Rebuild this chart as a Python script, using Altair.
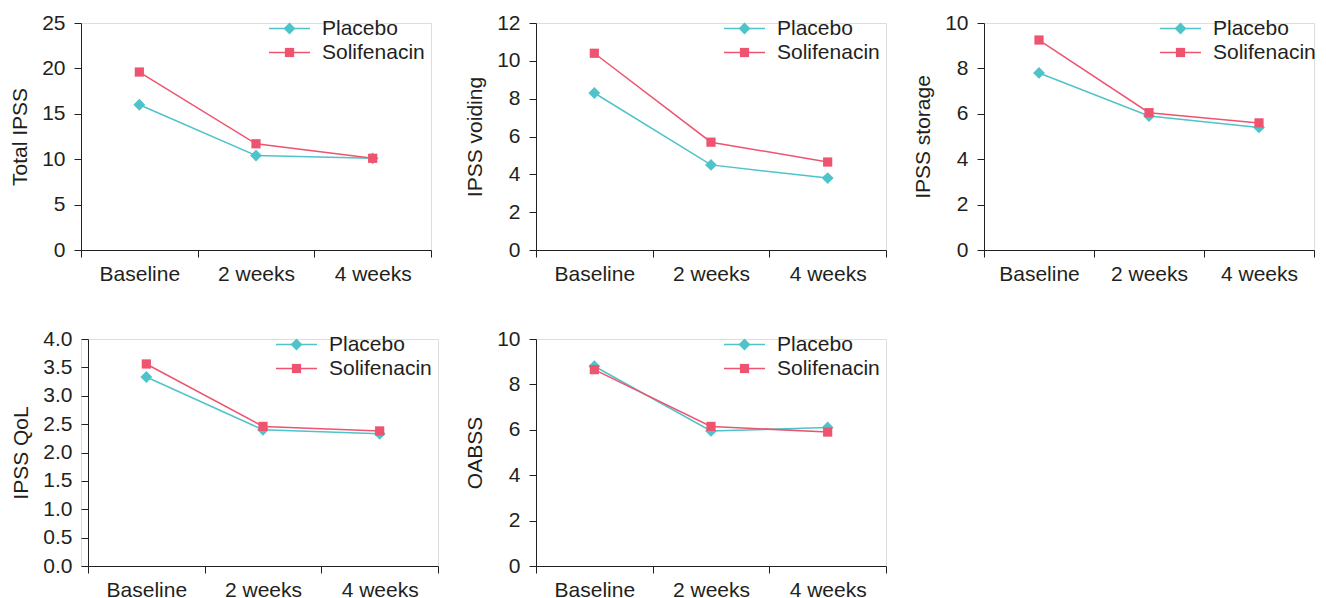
import altair as alt
import pandas as pd

categories = ["Baseline", "2 weeks", "4 weeks"]
series = ["Placebo", "Solifenacin"]
colors = ["#4EC3CA", "#EE5470"]

total_ipss_placebo = [16.0, 10.4, 10.1]
total_ipss_solifenacin = [19.6, 11.7, 10.1]
voiding_placebo = [8.3, 4.5, 3.8]
voiding_solifenacin = [10.4, 5.7, 4.65]
storage_placebo = [7.8, 5.9, 5.4]
storage_solifenacin = [9.25, 6.05, 5.6]
qol_placebo = [3.33, 2.40, 2.33]
qol_solifenacin = [3.56, 2.46, 2.38]
oabss_placebo = [8.8, 5.95, 6.1]
oabss_solifenacin = [8.65, 6.15, 5.9]

FONT = "Liberation Sans"
TXT = "#231F20"
FS = 21
PLOT_W = 350
PLOT_H = 227


def panel(title, placebo, solif, ymax, step, fmt, width=PLOT_W, shift=0, legend_dx=0):
    rows = []
    for s, vals in zip(series, [placebo, solif]):
        for c, v in zip(categories, vals):
            rows.append({"time": c, "series": s, "value": v})
    df = pd.DataFrame(rows)
    nticks = int(round(ymax / step))
    tick_vals = [round(i * step, 3) for i in range(nticks + 1)]

    xscale = dict(type="band", domain=categories, paddingInner=0, paddingOuter=0)
    if shift:
        xscale["range"] = [shift, shift + width]
    x = alt.X(
        "time:N",
        sort=categories,
        bandPosition=0.5,
        scale=alt.Scale(**xscale),
        axis=alt.Axis(
            title=None, tickBand="extent", labelAngle=0, tickSize=7, labelPadding=6,
            labelFontSize=FS, labelFont=FONT, labelColor=TXT,
            domainColor=TXT, tickColor=TXT, grid=False,
        ),
    )
    yaxis = dict(
        title=title, values=tick_vals, format=fmt, tickSize=7, labelPadding=9,
        labelFontSize=FS, labelFont=FONT, labelColor=TXT,
        titleFontSize=FS, titleFont=FONT, titleColor=TXT, titleFontWeight="normal",
        titlePadding=11, domainColor=TXT, tickColor=TXT, grid=False,
    )
    if shift:
        yaxis["offset"] = -shift
    y = alt.Y(
        "value:Q",
        scale=alt.Scale(domain=[0, ymax], nice=False, zero=True),
        axis=alt.Axis(**yaxis),
    )
    lx = 198 + shift + legend_dx
    ly = -5
    line_legend = alt.Legend(
        orient="none", legendX=lx, legendY=ly, title=None, padding=0,
        symbolType="M-4.1,0L4.1,0", symbolSize=100, symbolStrokeWidth=1.5,
        symbolOffset=0, labelOffset=22, rowPadding=2,
        labelFontSize=FS, labelFont=FONT, labelColor=TXT,
    )
    point_legend = alt.Legend(
        orient="none", legendX=lx, legendY=ly, title=None, padding=0,
        symbolSize=100, symbolStrokeWidth=0, symbolOffset=0, labelOffset=22,
        rowPadding=2, labelFontSize=FS, labelFont=FONT, labelOpacity=0,
    )
    cscale = alt.Scale(domain=series, range=colors)
    line = alt.Chart(df).mark_line(strokeWidth=1.5).encode(
        x=x, y=y,
        color=alt.Color("series:N", scale=cscale, legend=line_legend),
        detail="series:N",
    )
    pts = alt.Chart(df).mark_point(filled=True, opacity=1).encode(
        x=x, y=y,
        color=alt.Color("series:N", scale=cscale, legend=point_legend),
        shape=alt.Shape("series:N", scale=alt.Scale(domain=series, range=["diamond", "square"]),
                        legend=point_legend),
        size=alt.Size("series:N", scale=alt.Scale(domain=series, range=[140, 85]), legend=None),
    )
    return (
        alt.layer(line, pts)
        .resolve_scale(color="independent", shape="independent", size="independent")
        .resolve_legend(color="independent", shape="independent", size="independent")
        .properties(width=width + shift, height=PLOT_H)
    )


p1 = panel("Total IPSS", total_ipss_placebo, total_ipss_solifenacin, 25, 5, "d")
p2 = panel("IPSS voiding", voiding_placebo, voiding_solifenacin, 12, 2, "d")
p3 = panel("IPSS storage", storage_placebo, storage_solifenacin, 10, 2, "d", width=330, legend_dx=-12)
p4 = panel("IPSS QoL", qol_placebo, qol_solifenacin, 4, 0.5, ".1f", shift=7)
p5 = panel("OABSS", oabss_placebo, oabss_solifenacin, 10, 2, "d")

chart = (
    alt.concat(p1, p2, p3, p4, p5, columns=3, spacing={"row": 42, "column": 25})
    .properties(padding={"left": 1, "top": 3, "right": 0, "bottom": 0})
    .configure_view(stroke=None)
    .configure(font=FONT)
)

chart.save("out.html", embed_options={"renderer": "svg", "actions": False})
